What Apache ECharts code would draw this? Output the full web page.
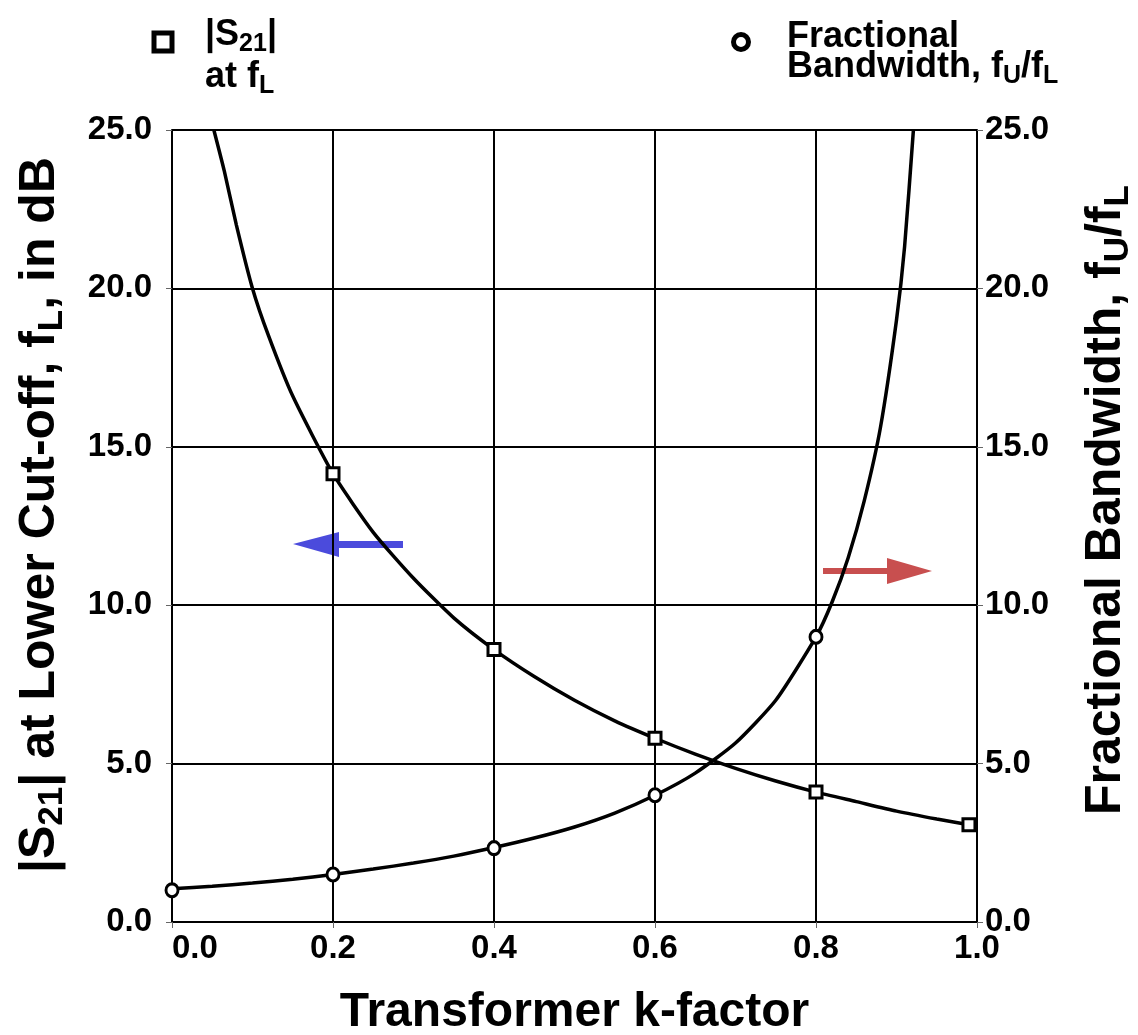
<!DOCTYPE html>
<html lang="en">
<head>
  <meta charset="UTF-8">
  <title>Transformer k-factor</title>
  <script src="https://cdn.jsdelivr.net/npm/echarts@6/dist/echarts.min.js"></script>
</head>
<body style="margin: 0;">
  <div id="chart" style="width: 1138px;height: 1035px;"></div>
  <script>
    const myEcharts = echarts.init(document.getElementById('chart'))

    // |S21| at fL (dB), curve
    const s21K = [0.052, 0.065, 0.08, 0.1, 0.12, 0.15, 0.2, 0.25, 0.3, 0.35, 0.4, 0.45, 0.5, 0.55, 0.6, 0.65, 0.7, 0.75, 0.8, 0.85, 0.9, 0.95, 0.99]
    const s21Val = [25.0, 23.7, 22.0, 20.0, 18.5, 16.6, 14.15, 12.3, 10.85, 9.6, 8.6, 7.75, 7.0, 6.35, 5.8, 5.3, 4.85, 4.45, 4.1, 3.8, 3.5, 3.25, 3.07]
    // square markers
    const s21MarkK = [0.2, 0.4, 0.6, 0.8, 0.99]
    const s21MarkVal = [14.15, 8.6, 5.8, 4.1, 3.07]

    // fractional bandwidth fU/fL, curve
    const bwK = [0, 0.05, 0.1, 0.15, 0.2, 0.25, 0.3, 0.35, 0.4, 0.45, 0.5, 0.55, 0.6, 0.65, 0.7, 0.75, 0.8, 0.82, 0.84, 0.86, 0.88, 0.9, 0.91, 0.921]
    const bwVal = [1.05, 1.13, 1.23, 1.35, 1.5, 1.67, 1.86, 2.08, 2.35, 2.65, 3.0, 3.44, 4.0, 4.7, 5.65, 7.0, 9.0, 10.1, 11.5, 13.3, 15.6, 19.0, 21.3, 25.0]
    // circle markers
    const bwMarkK = [0, 0.2, 0.4, 0.6, 0.8]
    const bwMarkVal = [1.0, 1.5, 2.33, 4.0, 9.0]

    // axis ticks
    const xTicks = [0, 0.2, 0.4, 0.6, 0.8, 1.0]
    const yTicks = [0, 5, 10, 15, 20, 25]

    const pairs = (xs, ys) => xs.map((x, i) => [x, ys[i]])
    const font = 'Liberation Sans, Arial, sans-serif'

    // rich styles for titles with subscripts
    const titleRich = {
      n: { fontFamily: font, fontWeight: 'bold', fontSize: 50, lineHeight: 60, color: '#000' },
      s: { fontFamily: font, fontWeight: 'bold', fontSize: 35, lineHeight: 39, verticalAlign: 'bottom', color: '#000' }
    }
    const legendRich = {
      n: { fontFamily: font, fontWeight: 'bold', fontSize: 36, lineHeight: 44, color: '#000' },
      s: { fontFamily: font, fontWeight: 'bold', fontSize: 25, lineHeight: 30, verticalAlign: 'bottom', color: '#000' }
    }
    const richText = (x, y, text, rich, rotation) => ({
      type: 'text',
      x: x,
      y: y,
      rotation: rotation || 0,
      style: { text: text, rich: rich, align: 'center', verticalAlign: 'middle' }
    })
    const legendText = (x, y, text) => ({
      type: 'text',
      x: x,
      y: y,
      style: { text: text, rich: legendRich, align: 'left', verticalAlign: 'middle' }
    })

    const axisCommon = {
      type: 'value',
      axisLine: { show: true, lineStyle: { color: '#000', width: 2 } },
      axisTick: { show: true, length: 6, lineStyle: { color: '#666', width: 1 } },
      axisLabel: {
        color: '#000',
        fontFamily: font,
        fontWeight: 'bold',
        fontSize: 33,
        formatter: v => v.toFixed(1)
      }
    }

    const option = {
      animation: false,
      backgroundColor: '#fff',
      grid: { left: 172, top: 130, width: 805, height: 792, outerBoundsMode: 'none' },
      xAxis: {
        ...axisCommon,
        min: xTicks[0],
        max: xTicks[xTicks.length - 1],
        interval: xTicks[1] - xTicks[0],
        axisLabel: { ...axisCommon.axisLabel, margin: 10, alignMinLabel: 'left' },
        splitLine: { show: true, lineStyle: { color: '#000', width: 2 } },
        name: 'Transformer k-factor',
        nameLocation: 'middle',
        nameGap: 67,
        nameTextStyle: { color: '#000', fontFamily: font, fontWeight: 'bold', fontSize: 48 }
      },
      yAxis: [
        {
          ...axisCommon,
          position: 'left',
          min: yTicks[0],
          max: yTicks[yTicks.length - 1],
          interval: yTicks[1] - yTicks[0],
          axisLabel: { ...axisCommon.axisLabel, margin: 20 },
          splitLine: { show: true, lineStyle: { color: '#000', width: 2 } }
        },
        {
          ...axisCommon,
          position: 'right',
          min: yTicks[0],
          max: yTicks[yTicks.length - 1],
          interval: yTicks[1] - yTicks[0],
          axisLabel: { ...axisCommon.axisLabel, margin: 8 },
          splitLine: { show: false }
        }
      ],
      graphic: [
        // axis titles
        richText(40, 515, '{n||S}{s|21}{n|| at Lower Cut-off, f}{s|L}{n|, in dB}', titleRich, Math.PI / 2),
        richText(1106, 500, '{n|Fractional Bandwidth, f}{s|U}{n|/f}{s|L}', titleRich, Math.PI / 2),
        // legend markers
        { type: 'rect', shape: { x: 154, y: 33, width: 18, height: 18 }, style: { fill: '#fff', stroke: '#000', lineWidth: 5 } },
        { type: 'circle', shape: { cx: 741, cy: 42, r: 7.5 }, style: { fill: '#fff', stroke: '#000', lineWidth: 5 } },
        // legend texts
        legendText(205, 35, '{n||S}{s|21}{n||}'),
        legendText(205, 77, '{n|at f}{s|L}'),
        legendText(787, 37, '{n|Fractional}'),
        legendText(787, 67, '{n|Bandwidth, f}{s|U}{n|/f}{s|L}'),
        // arrows pointing to each axis
        {
          type: 'polygon',
          shape: { points: [[293, 544], [339, 532], [339, 541], [403, 541], [403, 548], [339, 548], [339, 557]] },
          style: { fill: '#4b4bdc' }
        },
        {
          type: 'polygon',
          shape: { points: [[932, 571], [887, 558], [887, 568], [823, 568], [823, 574], [887, 574], [887, 584]] },
          style: { fill: '#c84f4f' }
        }
      ],
      series: [
        {
          type: 'line',
          yAxisIndex: 0,
          data: pairs(s21K, s21Val),
          showSymbol: false,
          smooth: 0.2,
          lineStyle: { color: '#000', width: 3.5 },
          z: 3
        },
        {
          type: 'scatter',
          yAxisIndex: 0,
          data: pairs(s21MarkK, s21MarkVal),
          symbol: 'rect',
          symbolSize: 12,
          clip: false,
          itemStyle: { color: '#fff', borderColor: '#000', borderWidth: 3, opacity: 1 },
          z: 5
        },
        {
          type: 'line',
          yAxisIndex: 1,
          data: pairs(bwK, bwVal),
          showSymbol: false,
          smooth: 0.2,
          lineStyle: { color: '#000', width: 3.5 },
          z: 3
        },
        {
          type: 'scatter',
          yAxisIndex: 1,
          data: pairs(bwMarkK, bwMarkVal),
          symbol: 'circle',
          symbolSize: [12, 13],
          clip: false,
          itemStyle: { color: '#fff', borderColor: '#000', borderWidth: 3, opacity: 1 },
          z: 5
        }
      ]
    }

    myEcharts.setOption(option)
  </script>
</body>
</html>
